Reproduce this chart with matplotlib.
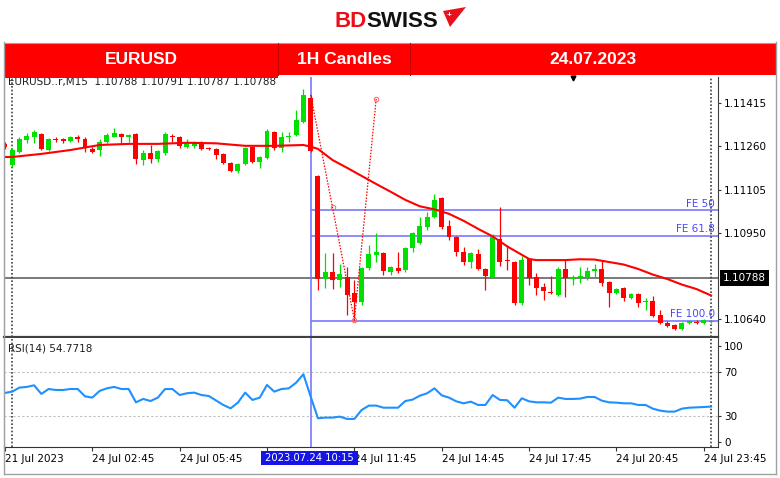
import numpy as np
import matplotlib
matplotlib.use('Agg')
import matplotlib.pyplot as plt
import matplotlib.transforms as mtransforms
from matplotlib.patches import Rectangle, Polygon
from matplotlib.lines import Line2D

# M15 bars, index 0 = 24 Jul 00:00, index -1 = last bar of 21 Jul
bars = np.arange(-1, 97)

opens = [1.11269, 1.11193, 1.11240, 1.11283, 1.11294, 1.11305, 1.11247, 1.11287, 1.11287, 1.11280,
         1.11294, 1.11287, 1.11251, 1.11247, 1.11276, 1.11294, 1.11305, 1.11294, 1.11305, 1.11211,
         1.11237, 1.11215, 1.11237, 1.11298, 1.11294, 1.11258, 1.11262, 1.11272, 1.11254, 1.11251,
         1.11233, 1.11201, 1.11172, 1.11197, 1.11258, 1.11204, 1.11219, 1.11312, 1.11254, 1.11294,
         1.11301, 1.11348, 1.11434, 1.11154, 1.10784, 1.10809, 1.10781, 1.10791, 1.10734, 1.10702,
         1.10824, 1.10871, 1.10878, 1.10809, 1.10824, 1.10817, 1.10895, 1.10913, 1.10971, 1.11007,
         1.11075, 1.10974, 1.10935, 1.10881, 1.10845, 1.10874, 1.10820, 1.10791, 1.10928, 1.10852,
         1.10845, 1.10698, 1.10856, 1.10791, 1.10755, 1.10737, 1.10727, 1.10820, 1.10784, 1.10788,
         1.10791, 1.10813, 1.10820, 1.10773, 1.10734, 1.10752, 1.10716, 1.10730, 1.10702, 1.10705,
         1.10655, 1.10626, 1.10619, 1.10605, 1.10626, 1.10630, 1.10626, 1.10630]
highs = [1.11276, 1.11254, 1.11294, 1.11308, 1.11319, 1.11308, 1.11290, 1.11294, 1.11290, 1.11298,
         1.11301, 1.11294, 1.11258, 1.11287, 1.11308, 1.11326, 1.11308, 1.11305, 1.11308, 1.11247,
         1.11265, 1.11247, 1.11312, 1.11305, 1.11298, 1.11287, 1.11280, 1.11280, 1.11258, 1.11254,
         1.11237, 1.11204, 1.11201, 1.11258, 1.11262, 1.11226, 1.11323, 1.11316, 1.11312, 1.11312,
         1.11391, 1.11466, 1.11445, 1.11158, 1.10878, 1.10878, 1.10838, 1.10827, 1.10781, 1.10827,
         1.10906, 1.10949, 1.10881, 1.10831, 1.10881, 1.10899, 1.10953, 1.11007, 1.11025, 1.11089,
         1.11079, 1.10996, 1.10939, 1.10899, 1.10881, 1.10892, 1.10824, 1.10946, 1.11043, 1.10906,
         1.10849, 1.10867, 1.10860, 1.10806, 1.10770, 1.10795, 1.10827, 1.10852, 1.10799, 1.10827,
         1.10827, 1.10838, 1.10852, 1.10777, 1.10752, 1.10755, 1.10734, 1.10734, 1.10716, 1.10723,
         1.10673, 1.10633, 1.10622, 1.10630, 1.10637, 1.10637, 1.10641, 1.10637]
lows = [1.11251, 1.11186, 1.11237, 1.11272, 1.11272, 1.11247, 1.11244, 1.11276, 1.11272, 1.11276,
        1.11276, 1.11240, 1.11237, 1.11226, 1.11272, 1.11294, 1.11272, 1.11276, 1.11197, 1.11193,
        1.11201, 1.11204, 1.11229, 1.11276, 1.11254, 1.11254, 1.11254, 1.11247, 1.11247, 1.11215,
        1.11197, 1.11168, 1.11165, 1.11193, 1.11201, 1.11183, 1.11215, 1.11247, 1.11240, 1.11276,
        1.11298, 1.11344, 1.11240, 1.10745, 1.10752, 1.10748, 1.10755, 1.10655, 1.10637, 1.10691,
        1.10817, 1.10845, 1.10799, 1.10799, 1.10806, 1.10809, 1.10881, 1.10910, 1.10960, 1.11003,
        1.10964, 1.10924, 1.10867, 1.10835, 1.10824, 1.10817, 1.10745, 1.10788, 1.10831, 1.10817,
        1.10691, 1.10691, 1.10763, 1.10727, 1.10709, 1.10730, 1.10723, 1.10720, 1.10763, 1.10770,
        1.10781, 1.10791, 1.10759, 1.10684, 1.10730, 1.10705, 1.10712, 1.10684, 1.10673, 1.10648,
        1.10622, 1.10612, 1.10601, 1.10601, 1.10622, 1.10622, 1.10622, 1.10626]
closes = [1.11258, 1.11247, 1.11287, 1.11298, 1.11312, 1.11251, 1.11287, 1.11283, 1.11280, 1.11294,
          1.11287, 1.11254, 1.11240, 1.11276, 1.11301, 1.11308, 1.11294, 1.11301, 1.11215, 1.11237,
          1.11215, 1.11244, 1.11305, 1.11294, 1.11262, 1.11272, 1.11276, 1.11251, 1.11251, 1.11229,
          1.11201, 1.11172, 1.11197, 1.11254, 1.11204, 1.11222, 1.11316, 1.11254, 1.11294, 1.11298,
          1.11355, 1.11445, 1.11244, 1.10784, 1.10809, 1.10781, 1.10802, 1.10727, 1.10702, 1.10824,
          1.10874, 1.10881, 1.10813, 1.10827, 1.10813, 1.10895, 1.10949, 1.10974, 1.11007, 1.11068,
          1.10971, 1.10935, 1.10881, 1.10845, 1.10878, 1.10820, 1.10795, 1.10935, 1.10845, 1.10849,
          1.10698, 1.10852, 1.10788, 1.10752, 1.10741, 1.10734, 1.10820, 1.10788, 1.10791, 1.10795,
          1.10813, 1.10820, 1.10770, 1.10734, 1.10748, 1.10716, 1.10730, 1.10698, 1.10705, 1.10651,
          1.10626, 1.10615, 1.10605, 1.10626, 1.10633, 1.10626, 1.10637, 1.10633]

# moving average
ma_idx = [-1, 0, 4, 8, 12, 16, 20, 24, 28, 32, 36, 40, 41, 42, 44, 46, 48, 50, 52, 54, 56, 58,
          60, 62, 64, 66, 68, 70, 71, 72, 74, 76, 78, 80, 82, 84, 86, 88, 90, 92, 94, 96]
ma_vals = [1.11222, 1.11222, 1.11233, 1.11247, 1.11265, 1.11269, 1.11269, 1.11273, 1.11271, 1.11262,
           1.11262, 1.11265, 1.11259, 1.11251, 1.11211, 1.11183, 1.11154, 1.11125, 1.11097, 1.11068,
           1.11045, 1.11034, 1.11018, 1.10993, 1.10964, 1.10937, 1.10901, 1.10871, 1.10856, 1.10852,
           1.10852, 1.10852, 1.10855, 1.10854, 1.10845, 1.10836, 1.10820, 1.10800, 1.10784, 1.10764,
           1.10748, 1.10725]

rsi_vals = [51.1, 52.3, 56.0, 56.6, 58.1, 50.2, 54.7, 53.8, 53.8, 54.7, 54.7, 48.0, 46.8, 52.9,
            55.3, 56.6, 54.7, 54.7, 42.5, 45.6, 43.7, 46.8, 54.7, 54.7, 49.2, 50.8, 51.4, 49.2,
            48.3, 44.2, 40.1, 37.0, 42.2, 51.4, 44.7, 46.8, 58.4, 52.3, 54.7, 55.3, 60.5, 68.2,
            47.7, 27.9, 28.5, 28.5, 29.4, 27.3, 27.3, 35.5, 39.5, 39.5, 37.6, 37.6, 37.6, 43.7,
            45.0, 48.6, 50.8, 55.3, 48.9, 46.8, 43.4, 41.6, 43.1, 40.1, 40.1, 49.2, 44.7, 44.4,
            37.6, 46.2, 43.4, 42.5, 42.5, 42.2, 46.8, 45.6, 45.6, 45.9, 47.4, 47.4, 44.0, 42.5,
            42.2, 41.6, 41.6, 40.1, 40.1, 36.7, 34.9, 34.0, 34.0, 36.7, 37.6, 37.9, 38.2, 38.6]

bid = 1.10788
cross_bar = 41
cross_label = '2023.07.24 10:15'
fe_levels = [1.11032, 1.10940, 1.10635]
fe_labels = ['FE 50', 'FE 61.8', 'FE 100.0']
fe_pts_idx = [41, 47, 50]
fe_pts_val = [1.11445, 1.10637, 1.11431]
day_seps = [0, 96]

price_ticks = [1.11415, 1.11260, 1.11105, 1.10950, 1.10640]
time_ticks = [-1, 11, 23, 35, 47, 59, 71, 83, 95]
# the 08:45 label sits under the crosshair time box, so it is left blank
time_labels = ['21 Jul 2023', '24 Jul 02:45', '24 Jul 05:45', '', '24 Jul 11:45',
               '24 Jul 14:45', '24 Jul 17:45', '24 Jul 20:45', '24 Jul 23:45']

GREEN = '#00E000'
RED = '#FF0000'
FIBBLUE = '#7878FF'
W, H = 780, 478


def fx(px):
    return px / W


def fy(py):
    return 1 - py / H


fig = plt.figure(figsize=(7.8, 4.78), dpi=100)
fig.patch.set_facecolor('white')

ax = fig.add_axes([fx(4), fy(337), 714 / W, 260 / H])
rsi = fig.add_axes([fx(4), fy(447), 714 / W, 109 / H])
xlim = (-1.126, 96.95)

# candles
o = np.array(opens)
c = np.array(closes)
up = c >= o
cols = [GREEN if u else RED for u in up]
ax.vlines(bars, lows, highs, colors=cols, lw=0.9, zorder=3)
body_h = np.maximum(np.abs(c - o), 0.000015)
ax.bar(bars, body_h, bottom=np.minimum(o, c), width=0.68, color=cols, linewidth=0, zorder=3)

ax.plot(ma_idx, ma_vals, color=RED, lw=1.5, zorder=4)
ax.axhline(bid, color='#6e6e6e', lw=1.3, zorder=2)

# fibonacci expansion
ax.hlines(fe_levels, cross_bar, xlim[1], color=FIBBLUE, lw=1.2, zorder=2)
for lev, lab in zip(fe_levels, fe_labels):
    ax.text(96.5, lev + 0.00004, lab, ha='right', va='bottom', color='#4848FF', fontsize=7.5, zorder=6)
ax.plot(fe_pts_idx, fe_pts_val, color=RED, ls=(0, (1.2, 1.2)), lw=0.9, zorder=5)
mid_x = (fe_pts_idx[0] + fe_pts_idx[1]) / 2
mid_y = (fe_pts_val[0] + fe_pts_val[1]) / 2
ax.plot([mid_x, fe_pts_idx[2], fe_pts_idx[1]], [mid_y, fe_pts_val[2], fe_pts_val[1]], 'o',
        mfc='none', mec='#FF6060', ms=3.2, mew=0.7, zorder=5)

for a in (ax, rsi):
    a.axvline(cross_bar, color=FIBBLUE, lw=1.2, zorder=2)
    for d in day_seps:
        a.axvline(d, color='#404040', ls=(0, (1, 1.2)), lw=1.2, zorder=2)
    a.set_xlim(*xlim)
    a.set_facecolor('white')
    a.spines['top'].set_visible(False)
    a.spines['left'].set_color('#b0b0b0')
    a.spines['right'].set_color('#404040')
    a.spines['right'].set_linewidth(0.8)

ax.set_ylim(1.10576, 1.11509)
ax.set_xticks([])
ax.yaxis.tick_right()
ax.set_yticks(price_ticks)
ax.set_yticklabels(['%.5f' % v for v in price_ticks])
ax.tick_params(axis='y', length=2.5, width=0.8, color='#333333', labelsize=7.5, pad=2)
ax.spines['bottom'].set_color('#404040')
ax.spines['bottom'].set_linewidth(1.6)

# current price box on the scale
trans = mtransforms.blended_transform_factory(ax.transAxes, ax.transData)
ax.text(1.0 + 5 / 714, bid, '%.5f' % bid, transform=trans, ha='left', va='center', color='white',
        fontsize=7.5, bbox=dict(boxstyle='square,pad=0.25', fc='black', ec='none'), zorder=7)

ax.text(0.005, 0.979, 'EURUSD..r,M15  1.10788 1.10791 1.10787 1.10788', transform=ax.transAxes,
        ha='left', va='center', fontsize=7.5, color='#202020')
ax.plot([77], [0.995], marker='v', color='black', ms=3.5,
        transform=mtransforms.blended_transform_factory(ax.transData, ax.transAxes), clip_on=False)

# RSI panel
rsi.plot(bars, rsi_vals, color='#1E90FF', lw=1.5, zorder=3)
for lv in (70, 30):
    rsi.axhline(lv, color='#c0c0c0', ls=(0, (2, 2)), lw=0.8, zorder=1)
rsi.set_ylim(1.6, 101.4)
rsi.yaxis.tick_right()
rsi.set_yticks([94.3, 70, 30, 6.5])
rsi.set_yticklabels(['100', '70', '30', '0'])
rsi.tick_params(axis='y', length=2.5, width=0.8, color='#333333', labelsize=7.5, pad=2)
rsi.set_xticks(time_ticks)
rsi.set_xticklabels(time_labels, ha='left')
rsi.tick_params(axis='x', length=3, width=0.8, color='#333333', labelsize=7.5, pad=2)
rsi.spines['bottom'].set_color('#333333')
rsi.text(0.006, 0.905, 'RSI(14) 54.7718', transform=rsi.transAxes, ha='left', va='center',
         fontsize=7.5, color='#202020')

# crosshair time label
fig.add_artist(Rectangle((fx(261), fy(465)), 97 / W, 14 / H, transform=fig.transFigure,
                         fc='#1414E6', ec='none', zorder=5))
fig.text(fx(309.5), fy(458), cross_label, ha='center', va='center', color='white', fontsize=7.2, zorder=6)

# window frame
fig.add_artist(Line2D([fx(4), fx(776)], [fy(474), fy(474)], color='#a0a0a0', lw=1))
fig.add_artist(Line2D([fx(776), fx(776)], [fy(42), fy(474)], color='#a0a0a0', lw=1))
fig.add_artist(Line2D([fx(4), fx(4)], [fy(42), fy(474)], color='#a0a0a0', lw=1))

# header bar
fig.add_artist(Rectangle((fx(4), fy(75)), 772 / W, 32 / H, transform=fig.transFigure,
                         fc='#FF0000', ec='none'))
fig.add_artist(Rectangle((fx(4), fy(77.5)), 274 / W, 34 / H, transform=fig.transFigure,
                         fc='#FF0000', ec='none'))
fig.add_artist(Line2D([fx(4), fx(776)], [fy(42.5), fy(42.5)], color='#a0a0a0', lw=0.8))
for dx in (278, 410):
    fig.add_artist(Line2D([fx(dx), fx(dx)], [fy(43), fy(75)], color='#C80000', lw=0.7))
hdr_font = dict(family='Liberation Sans', weight='bold', fontsize=12.5, color='white',
                ha='center', va='center')
fig.text(fx(141), fy(60), 'EURUSD', **hdr_font)
fig.text(fx(344), fy(60), '1H Candles', **hdr_font)
fig.text(fx(593), fy(60), '24.07.2023', **hdr_font)

# logo
fig.text(fx(334), fy(26.7), 'BD', family='Liberation Sans', weight='bold', fontsize=16,
         color='#E8101A', ha='left', va='baseline')
fig.text(fx(366), fy(26.7), 'SWISS', family='Liberation Sans', weight='bold', fontsize=16,
         color='#111111', ha='left', va='baseline')
fig.add_artist(Polygon([(fx(443), fy(11)), (fx(466), fy(7)), (fx(450), fy(27))],
                       closed=True, transform=fig.transFigure, fc='#E8101A', ec='none'))
fig.text(fx(449), fy(15), '+', family='Liberation Sans', weight='bold', fontsize=6,
         color='white', ha='center', va='center')

fig.savefig('out.png', dpi=100, facecolor='white')
